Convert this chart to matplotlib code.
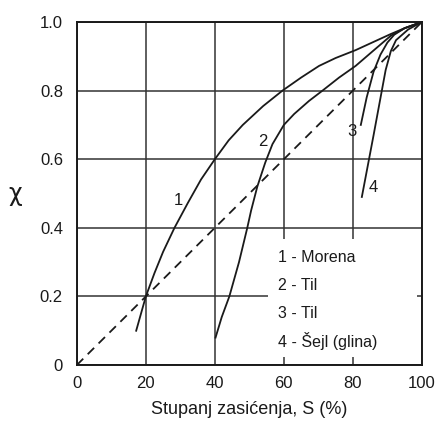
import matplotlib
matplotlib.use("Agg")
import matplotlib.pyplot as plt
from matplotlib.patches import Rectangle

plt.rcParams['font.family'] = ['Liberation Sans', 'DejaVu Sans']

# curves: S (%) vs chi
s1 = [17.2, 20, 22.5, 25, 28.3, 32.2, 36, 40, 44, 48.1, 54, 59.6, 65, 70.2, 75, 80.8, 86, 91, 95, 100]
c1 = [0.10, 0.20, 0.268, 0.33, 0.40, 0.473, 0.541, 0.60, 0.655, 0.70, 0.755, 0.80, 0.838, 0.872, 0.895, 0.918, 0.942, 0.965, 0.982, 1.0]

s2 = [40.2, 42, 44.2, 47, 49.4, 50.5, 52.3, 54.6, 56.7, 60, 63, 67.3, 71.2, 76, 80.8, 86, 91, 95, 100]
c2 = [0.08, 0.14, 0.20, 0.30, 0.40, 0.45, 0.52, 0.59, 0.644, 0.70, 0.732, 0.77, 0.80, 0.838, 0.872, 0.917, 0.960, 0.982, 1.0]

s3 = [82.3, 84, 86, 88, 90, 92, 95, 100]
c3 = [0.70, 0.78, 0.855, 0.905, 0.94, 0.963, 0.982, 1.0]

s4 = [82.6, 86, 89.5, 91, 92.5, 96, 100]
c4 = [0.49, 0.67, 0.86, 0.915, 0.947, 0.978, 1.0]

line_s = [0, 100]
line_c = [0, 1.0]

curve_labels = ['1', '2', '3', '4']
label_pos = [(29.3, 0.48), (53.8, 0.653), (79.7, 0.68), (85.8, 0.517)]
legend_lines = ['1 - Morena', '2 - Til', '3 - Til', '4 - Šejl (glina)']

fig = plt.figure(figsize=(4.39, 4.23), dpi=100)
ax = fig.add_axes([0.175, 0.137, 0.786, 0.811])

ink = '#1a1a1a'
ax.set_xlim(0, 100)
ax.set_ylim(0, 1.0)
ax.set_xticks([0, 20, 40, 60, 80, 100])
ax.set_yticks([0, 0.2, 0.4, 0.6, 0.8, 1.0])
ax.set_yticklabels(['0', '0.2', '0.4', '0.6', '0.8', '1.0'])
ax.tick_params(length=0, labelsize=12, colors=ink)
ax.tick_params(axis='y', pad=10)
ax.tick_params(axis='x', pad=8)
ax.grid(True, color='#333333', lw=1.1)
ax.set_axisbelow(True)
for sp in ax.spines.values():
    sp.set_color(ink)
    sp.set_linewidth(1.4)

# white box behind the legend text hides the grid there
ax.add_patch(Rectangle((55.5, 0.023), 43, 0.345, facecolor='white',
                       edgecolor='none', zorder=1.5))

for s, c in [(s1, c1), (s2, c2), (s3, c3), (s4, c4)]:
    ax.plot(s, c, color=ink, lw=1.3, zorder=3, solid_joinstyle='round')
ax.plot(line_s, line_c, color=ink, lw=1.3, dashes=(5, 3.5), zorder=3)

for lab, (x, y) in zip(curve_labels, label_pos):
    ax.text(x, y, lab, fontsize=12, color=ink, ha='center', va='center', zorder=4)

for i, t in enumerate(legend_lines):
    ax.text(58.4, 0.313 - i * 0.081, t, fontsize=11.5, color=ink,
            ha='left', va='center', zorder=4)

ax.set_xlabel('Stupanj zasićenja, S (%)', fontsize=13, color=ink, labelpad=7)
ax.set_ylabel('χ', fontsize=17, color=ink, rotation=0, labelpad=18, va='center',
              family=['DejaVu Sans'])

fig.savefig('out.png', dpi=100)
